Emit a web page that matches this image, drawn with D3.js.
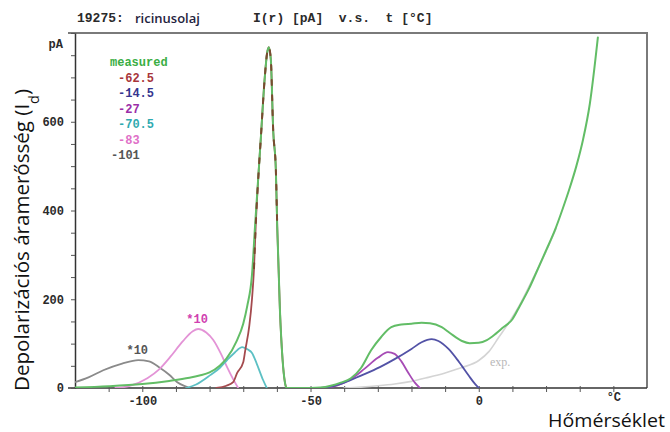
<!DOCTYPE html>
<html>
<head>
<meta charset="utf-8">
<script src="https://cdn.jsdelivr.net/npm/d3@7"></script>
<style>
  body { margin: 0; background: #fff; }
  svg { display: block; }
  .mono { font-family: "Liberation Mono", "DejaVu Sans Mono", monospace; font-weight: bold; font-size: 13px; }
</style>
</head>
<body>
<svg id="chart"></svg>
<script>
// temperature (°C), current (pA) pairs
const measured = [[-120,1],[-110,4],[-100,9],[-92,16],[-86,23],[-83,28],[-80,35],[-77,50],[-75,66],[-72,105],
  [-70,145],[-68.8,185],[-67.4,255],[-66.5,364],[-65.4,490],[-64.8,560],[-63.6,700],[-62.9,755],[-62.4,768],
  [-61.8,740],[-61.1,581],[-60.3,490],[-59.9,364],[-59.1,176],[-58.3,63],[-57.6,12],[-57.2,0],[-50,0],
  [-47,1],[-44,5],[-41,12],[-38,22],[-35,45],[-32,85],[-29,115],[-26,137],[-23,143],[-20,145],[-17,147],
  [-14.5,146],[-11,137],[-8.6,124],[-5,106],[-2.7,101],[0,102],[2.4,108],[5,122],[7,135],[10,155],
  [12.2,185],[15,225],[17.2,262],[20,310],[22.6,355],[25,405],[27,450],[29,500],[31,560],[33,640],[35.4,790]];
const peak625 = [[-78,0],[-75,5],[-73,13],[-71.8,34],[-70,58],[-69.4,85],[-68.2,140],[-67.4,200],[-66.8,270],
  [-66.3,364],[-65.4,490],[-64.8,560],[-63.6,700],[-62.9,755],[-62.4,768],[-61.8,740],[-61.1,581],
  [-60.3,490],[-59.9,364],[-59.1,176],[-58.3,63],[-57.6,12],[-57.2,0]];
const peak145 = [[-47,0],[-44,3],[-40,12],[-35,28],[-29.4,47],[-25,65],[-20,88],[-17,103],[-14,110],
  [-12,106],[-9,88],[-6,60],[-3,28],[-1,8],[0,0]];
const peak27 = [[-45,0],[-42,6],[-38,20],[-34,43],[-30,68],[-27,81],[-25,77],[-23,60],[-21,35],[-19,12],[-17.5,0]];
const peak705 = [[-87,0],[-84,8],[-79.8,29],[-77,45],[-74.8,63],[-72.5,80],[-70.3,92],[-68.5,86],[-67.4,79],
  [-66,55],[-64.1,18],[-63,0]];
const peak83 = [[-108,0],[-104,4],[-98.5,22],[-95,42],[-91.7,70],[-88,105],[-85,128],[-83.4,133],[-81,125],
  [-78.9,108],[-76.5,75],[-74.8,47],[-73,20],[-71.5,0]];
const peak101 = [[-120,13],[-116,24],[-111.6,40],[-106,55],[-101.2,63],[-98,60],[-94.7,45],[-92,30],
  [-89.6,13],[-87,3],[-86,0]];
const expFit = [[-40,0],[-35,2],[-30,5],[-25,9],[-20,15],[-15,24],[-10,34],[-5,46],[0,62],[3,82],[6,115],
  [9,148],[12,185],[16,245],[20,308],[23,360]];

const legendNames = ["measured", "-62.5", "-14.5", "-27", "-70.5", "-83", "-101"];
const legendColors = ["#3aae44", "#a8353a", "#35358f", "#9a2ea8", "#2eaab0", "#e070c8", "#555555"];
const xTicks = d3.range(-110, 50, 10);
const xLabels = new Map([[-100, "-100"], [-50, "-50"], [0, "0"], [40, "°C"]]);
const yTicks = d3.range(0, 801, 50);
const yLabels = new Map([[0, "0"], [200, "200"], [400, "400"], [600, "600"]]);

const width = 670, height = 432;
const svg = d3.select("#chart").attr("width", width).attr("height", height);

const x = d3.scaleLinear().domain([-120, 50]).range([75, 647]);
const y = d3.scaleLinear().domain([0, 800]).range([388, 33]);

// title line
svg.append("text").attr("class", "mono").attr("x", 77).attr("y", 22).attr("fill", "#2a2a2a").text("19275:");
svg.append("text").attr("x", 135).attr("y", 23)
  .style("font-family", "'Open Sans', sans-serif").style("font-size", "13px").style("font-weight", "600")
  .attr("fill", "#1f2340").text("ricinusolaj");
svg.append("text").attr("class", "mono").attr("x", 253).attr("y", 22).attr("fill", "#2a2a2a")
  .attr("xml:space", "preserve").text("I(r) [pA]  v.s.  t [°C]");

// frame
svg.append("path")
  .attr("d", `M${x(-120) - 7},${y(800)}H${x(50)}V${y(0)}`)
  .attr("fill", "none").attr("stroke", "#7a7a7a").attr("stroke-width", 2);

// axes
const xAxis = svg.append("g")
  .attr("transform", `translate(0,${y(0)})`)
  .call(d3.axisBottom(x).tickValues(xTicks).tickSize(4).tickSizeOuter(0)
    .tickFormat(d => xLabels.get(d) || ""));
xAxis.select(".domain").attr("d", `M${x(-120) - 7},0H${x(50)}`).attr("stroke", "#333").attr("stroke-width", 1.5);
xAxis.selectAll(".tick line").attr("y1", -2).attr("stroke", "#555");
xAxis.selectAll(".tick text").attr("class", "mono").attr("y", d => d === 40 ? 4 : 8).attr("fill", "#2a2a2a")
  .style("font-size", "12px");

const yAxis = svg.append("g")
  .attr("transform", `translate(${x(-120)},0)`)
  .call(d3.axisLeft(y).tickValues(yTicks).tickSize(4).tickSizeOuter(0)
    .tickFormat(d => yLabels.get(d) || ""));
yAxis.select(".domain").attr("stroke", "#333").attr("stroke-width", 1.5);
yAxis.selectAll(".tick line").attr("stroke", "#555");
yAxis.selectAll(".tick text").attr("class", "mono").attr("x", -11).attr("fill", "#2a2a2a")
  .style("font-size", "12px");
yAxis.append("text").attr("class", "mono").attr("x", -12).attr("y", y(775)).attr("dy", "0.32em")
  .attr("text-anchor", "end").attr("fill", "#2a2a2a").style("font-size", "12px").text("pA");

// axis titles
const yTitle = svg.append("text")
  .attr("transform", "translate(29,240) rotate(-90)")
  .attr("text-anchor", "middle")
  .attr("textLength", 302).attr("lengthAdjust", "spacingAndGlyphs")
  .style("font-family", "'Open Sans', sans-serif").style("font-size", "20px").attr("fill", "#111");
yTitle.append("tspan").text("Depolarizációs áramerősség (I");
yTitle.append("tspan").attr("baseline-shift", "sub").style("font-size", "14px").text("d");
yTitle.append("tspan").text(")");

svg.append("text").attr("x", 665).attr("y", 427).attr("text-anchor", "end")
  .attr("textLength", 117).attr("lengthAdjust", "spacingAndGlyphs")
  .style("font-family", "'Open Sans', sans-serif").style("font-size", "19px").attr("fill", "#111")
  .text("Hőmérséklet");

// curves
svg.append("clipPath").attr("id", "plot").append("rect")
  .attr("x", x(-120)).attr("y", y(800)).attr("width", x(50) - x(-120)).attr("height", y(0) - y(800));
const plot = svg.append("g").attr("clip-path", "url(#plot)");
const line = d3.line().x(d => x(d[0])).y(d => y(d[1])).curve(d3.curveMonotoneX);

function draw(data, color, w = 1.8, dash = null) {
  const p = plot.append("path").datum(data).attr("d", line)
    .attr("fill", "none").attr("stroke", color).attr("stroke-width", w)
    .attr("stroke-linejoin", "round").attr("stroke-linecap", "round");
  if (dash) p.attr("stroke-dasharray", dash);
  return p;
}

draw(expFit, "#d4d4d4", 1.6);
draw(peak101, "#8a8a8a");
draw(peak83, "#e393d6");
draw(peak705, "#5cc0c4");
draw(peak27, "#a64bb5");
draw(peak145, "#5252a6");
draw(peak625, "#a44a4e");
draw(measured, "#62bd66", 2);
draw(peak625.filter(d => d[1] > 200), "#7a4a30", 2, "5,10");

// *10 scale notes above the two magnified peaks
const notes = [[peak101, "#555555"], [peak83, "#d040b0"]];
notes.forEach(([data, color]) => {
  const top = d3.greatest(data, d => d[1]);
  svg.append("text").attr("class", "mono").attr("x", x(top[0]) - 1).attr("y", y(top[1]) - 6)
    .attr("text-anchor", "middle").attr("fill", color).style("font-size", "12px").text("*10");
});

svg.append("text").attr("x", 490).attr("y", 366)
  .style("font-family", "'Liberation Serif', serif").style("font-size", "12px").attr("fill", "#b8b8b8")
  .text("exp.");

// legend
svg.append("g").selectAll("text")
  .data(legendNames)
  .join("text")
  .attr("class", "mono")
  .attr("x", (d, i) => i === 0 ? 110 : (i === legendNames.length - 1 ? 111 : 118))
  .attr("y", (d, i) => 66 + i * 15.5)
  .attr("fill", (d, i) => legendColors[i])
  .style("font-size", "12px")
  .text(d => d);
</script>
</body>
</html>
